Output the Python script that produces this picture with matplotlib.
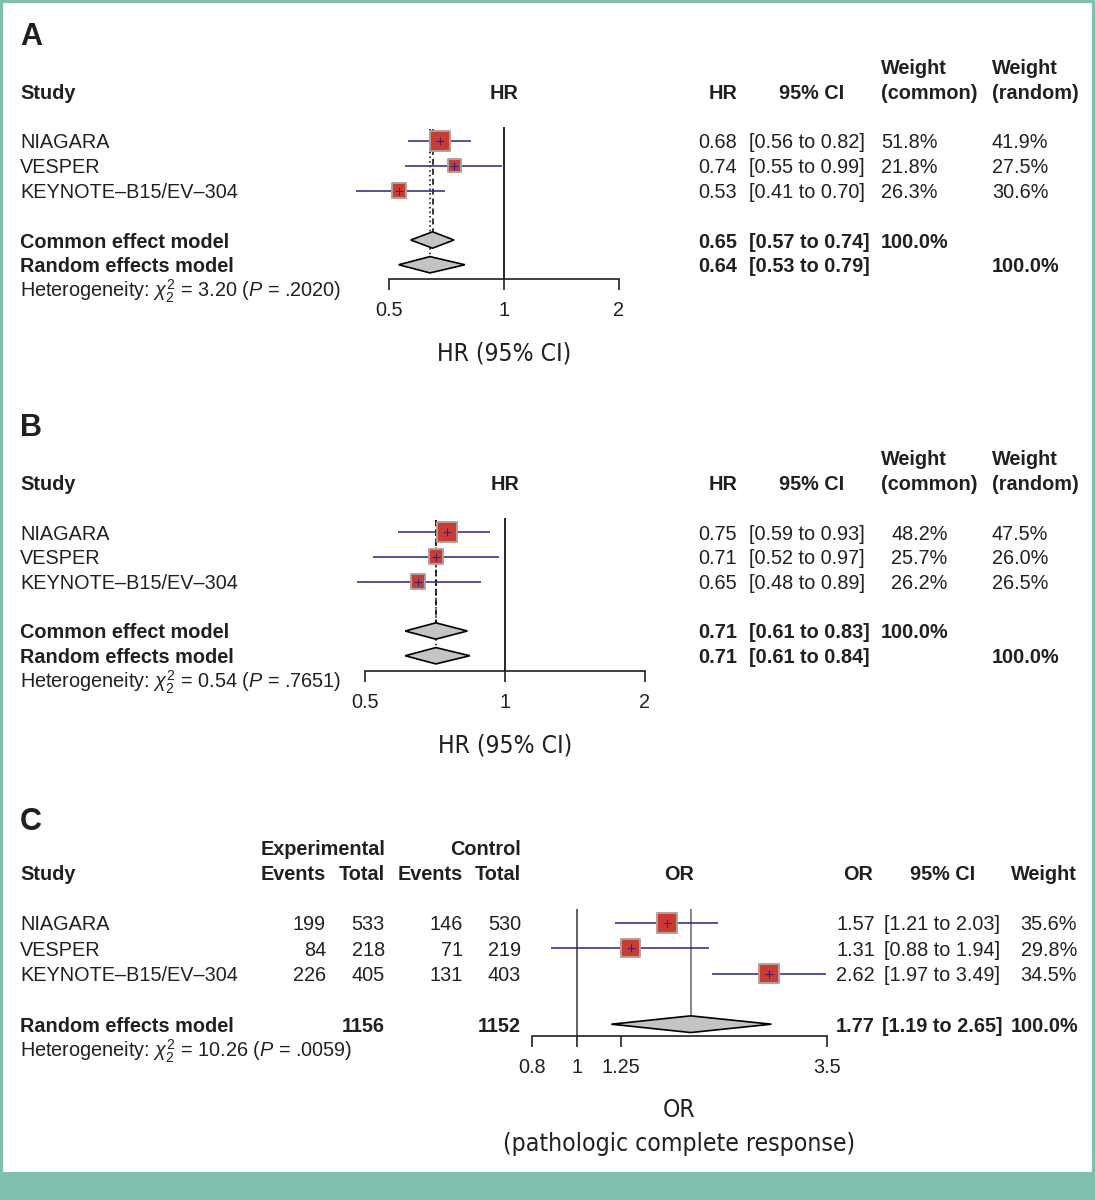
import matplotlib
matplotlib.use("Agg")
import matplotlib.pyplot as plt
from matplotlib import font_manager
from matplotlib.font_manager import FontProperties
from matplotlib.patches import Polygon, Rectangle
from matplotlib.transforms import blended_transform_factory, ScaledTranslation
import numpy as np

W, H = 1095, 1200

# ---- data ----
studies = ["NIAGARA", "VESPER", "KEYNOTE–B15/EV–304"]

# A: HR
a_hr = [0.68, 0.74, 0.53]
a_lo = [0.56, 0.55, 0.41]
a_hi = [0.82, 0.99, 0.70]
a_w_common = [51.8, 21.8, 26.3]
a_w_random = [41.9, 27.5, 30.6]
a_common = (0.65, 0.57, 0.74)
a_random = (0.64, 0.53, 0.79)
a_het = ("3.20", ".2020")

# B: HR
b_hr = [0.75, 0.71, 0.65]
b_lo = [0.59, 0.52, 0.48]
b_hi = [0.93, 0.97, 0.89]
b_w_common = [48.2, 25.7, 26.2]
b_w_random = [47.5, 26.0, 26.5]
b_common = (0.71, 0.61, 0.83)
b_random = (0.71, 0.61, 0.84)
b_het = ("0.54", ".7651")

# C: OR (pathologic complete response)
c_or = [1.57, 1.31, 2.62]
c_lo = [1.21, 0.88, 1.97]
c_hi = [2.03, 1.94, 3.49]
c_weight = [35.6, 29.8, 34.5]
c_exp_events = [199, 84, 226]
c_exp_total = [533, 218, 405]
c_ctl_events = [146, 71, 131]
c_ctl_total = [530, 219, 403]
c_random = (1.77, 1.19, 2.65)
c_het = ("10.26", ".0059")

hr_ticks = [0.5, 1, 2]
hr_ticklabels = ["0.5", "1", "2"]
or_ticks = [0.8, 1, 1.25, 3.5]
or_ticklabels = ["0.8", "1", "1.25", "3.5"]

# ---- style ----
INK = "#231f20"
RED = "#cf3a2e"
BOX_EDGE = "#aaa2a2"
CI_BLUE = "#25258f"
DIAMOND = "#c4c4c4"
TEAL = "#7fbfae"
FS = 14.3

SANS = "Liberation Sans"
plt.rcParams["font.family"] = [SANS, "DejaVu Sans"]
plt.rcParams["mathtext.fontset"] = "custom"
plt.rcParams["mathtext.rm"] = SANS
plt.rcParams["mathtext.it"] = SANS + ":italic"
plt.rcParams["mathtext.bf"] = SANS + ":bold"

# the axis titles use a condensed face; take one if any is installed
narrow = None
for f in font_manager.fontManager.ttflist:
    if f.style != "normal" or f.weight not in (400, "normal", "regular"):
        continue
    if "Narrow" in f.name or "Condensed" in f.name or f.stretch in ("condensed", "semi-condensed"):
        if narrow is None or "Liberation" in f.name:
            narrow = f
if narrow is not None and "Liberation" in narrow.name:
    LABEL_FONT = FontProperties(fname=narrow.fname, size=21.6)
elif narrow is not None:
    LABEL_FONT = FontProperties(fname=narrow.fname, size=17.7)
else:
    LABEL_FONT = FontProperties(family=SANS, size=17)

fig = plt.figure(figsize=(W / 100, H / 100), dpi=100)
fig.patch.set_facecolor("white")
# nudge text rows down a little so cap centres sit on the row
NUDGE = ScaledTranslation(0, -2 / 100, fig.dpi_scale_trans)


def make_axes(x0, x1, row1, row_h, axis_y, top_y, xlim, ticks, ticklabels):
    ax = fig.add_axes([x0 / W, 1 - axis_y / H, (x1 - x0) / W, (axis_y - top_y) / H])
    ax.set_xscale("log")
    ax.set_xlim(*xlim)
    ax.set_ylim(1 + (axis_y - row1) / row_h, 1 + (top_y - row1) / row_h)
    ax.patch.set_alpha(0)
    for s in ["left", "right", "top"]:
        ax.spines[s].set_visible(False)
    ax.spines["bottom"].set_linewidth(1.2)
    ax.spines["bottom"].set_color(INK)
    ax.set_yticks([])
    ax.set_xticks(ticks)
    ax.set_xticklabels(ticklabels)
    ax.xaxis.set_minor_locator(matplotlib.ticker.NullLocator())
    ax.tick_params(axis="x", direction="out", length=8, width=1.2, color=INK,
                   labelsize=FS, labelcolor=INK, pad=8)
    return ax


def put(ax, x, row, s, ha="left", bold=False):
    tr = blended_transform_factory(fig.transFigure, ax.transData) + NUDGE
    ax.text(x / W, row, s, transform=tr, ha=ha, va="center", fontsize=FS,
            fontweight="bold" if bold else "normal", color=INK)


def fig_text(x, y, s, **kw):
    fig.text(x / W, 1 - y / H, s, color=INK, **kw)


def studies_ci(ax, est, lo, hi, weights, box_max=20):
    rows = np.arange(1, len(est) + 1)
    ax.hlines(rows, lo, hi, color=CI_BLUE, lw=1.1, zorder=3, clip_on=False)
    wmax = max(weights)
    sizes = [(box_max * np.sqrt(w / wmax) * 0.72) ** 2 for w in weights]
    ax.scatter(est, rows, s=sizes, marker="s", facecolor=RED, edgecolor=BOX_EDGE,
               linewidth=1.4, zorder=4, clip_on=False)
    ax.scatter(est, rows, s=28, marker="+", color=CI_BLUE, linewidth=0.8,
               zorder=5, clip_on=False)


def diamond(ax, row, est, lo, hi, h=0.33):
    ax.add_patch(Polygon([(lo, row), (est, row - h), (hi, row), (est, row + h)],
                         closed=True, facecolor=DIAMOND, edgecolor="black",
                         linewidth=1.2, zorder=4, clip_on=False))


def hr_panel(letter, row1, axis_y, x0, x1, est, lo, hi, w_common, w_random,
             common, random, het, wc_x):
    row_h = 24.75
    ax = make_axes(x0, x1, row1, row_h, axis_y, row1 - 3.5 * row_h,
                   (0.5, 2), hr_ticks, hr_ticklabels)
    n = len(est)
    # reference and pooled lines
    ax.vlines(1, 0.45, ax.get_ylim()[0], color="black", lw=1.2, zorder=2)
    ax.vlines(common[0], 0.5, n + 2 - 0.33, color="black", lw=1.1,
              linestyles=(0, (4, 2.5)), zorder=2)
    ax.vlines(random[0], 0.5, n + 3 - 0.33, color="black", lw=1.1,
              linestyles=(0, (1, 2)), zorder=2)
    studies_ci(ax, est, lo, hi, w_common)
    diamond(ax, n + 2, *common)
    diamond(ax, n + 3, *random)

    fig_text(20, row1 - 104, letter, fontsize=22, fontweight="bold",
             va="center", ha="left")
    # headers
    put(ax, 20, -1, "Study", bold=True)
    put(ax, (x0 + x1) / 2, -1, "HR", ha="center", bold=True)
    put(ax, 737, -1, "HR", ha="right", bold=True)
    put(ax, 812, -1, "95% CI", ha="center", bold=True)
    put(ax, 881, -2, "Weight", bold=True)
    put(ax, 881, -1, "(common)", bold=True)
    put(ax, 992, -2, "Weight", bold=True)
    put(ax, 992, -1, "(random)", bold=True)
    # study rows
    for i in range(n):
        r = i + 1
        put(ax, 20, r, studies[i])
        put(ax, 737, r, f"{est[i]:.2f}", ha="right")
        put(ax, 749, r, f"[{lo[i]:.2f} to {hi[i]:.2f}]")
        put(ax, wc_x, r, f"{w_common[i]:.1f}%")
        put(ax, 992, r, f"{w_random[i]:.1f}%")
    # pooled rows
    put(ax, 20, n + 2, "Common effect model", bold=True)
    put(ax, 737, n + 2, f"{common[0]:.2f}", ha="right", bold=True)
    put(ax, 749, n + 2, f"[{common[1]:.2f} to {common[2]:.2f}]", bold=True)
    put(ax, 881, n + 2, "100.0%", bold=True)
    put(ax, 20, n + 3, "Random effects model", bold=True)
    put(ax, 737, n + 3, f"{random[0]:.2f}", ha="right", bold=True)
    put(ax, 749, n + 3, f"[{random[1]:.2f} to {random[2]:.2f}]", bold=True)
    put(ax, 992, n + 3, "100.0%", bold=True)
    put(ax, 20, n + 4, r"Heterogeneity: $\chi^2_2$ = " + het[0] + r" ($P$ = " + het[1] + ")")
    fig_text((x0 + x1) / 2, axis_y + 74, "HR (95% CI)", fontproperties=LABEL_FONT,
             ha="center", va="center")


hr_panel("A", 141, 279, 389, 619, a_hr, a_lo, a_hi, a_w_common, a_w_random,
         a_common, a_random, a_het, 881)
hr_panel("B", 532, 671, 365, 645, b_hr, b_lo, b_hi, b_w_common, b_w_random,
         b_common, b_random, b_het, 891)

# ---- panel C ----
row1, row_h, axis_y, x0, x1 = 923, 25.3, 1036, 532, 827
ax = make_axes(x0, x1, row1, row_h, axis_y, row1 - 3.5 * row_h,
               (0.8, 3.5), or_ticks, or_ticklabels)
n = len(c_or)
ax.vlines(1, 0.45, ax.get_ylim()[0], color="#444444", lw=1.2, zorder=2)
ax.vlines(c_random[0], 0.45, n + 2 - 0.33, color="#666666", lw=1.1, zorder=2)
studies_ci(ax, c_or, c_lo, c_hi, c_weight)
diamond(ax, n + 2, *c_random)

fig_text(20, row1 - 101, "C", fontsize=22, fontweight="bold", va="center", ha="left")
put(ax, 20, -1, "Study", bold=True)
put(ax, 385, -2, "Experimental", ha="right", bold=True)
put(ax, 521, -2, "Control", ha="right", bold=True)
for xr, lab in [(326, "Events"), (385, "Total"), (463, "Events"), (521, "Total")]:
    put(ax, xr, -1, lab, ha="right", bold=True)
put(ax, (x0 + x1) / 2, -1, "OR", ha="center", bold=True)
put(ax, 873, -1, "OR", ha="right", bold=True)
put(ax, 943, -1, "95% CI", ha="center", bold=True)
put(ax, 1077, -1, "Weight", ha="right", bold=True)
for i in range(n):
    r = i + 1
    put(ax, 20, r, studies[i])
    put(ax, 326, r, str(c_exp_events[i]), ha="right")
    put(ax, 385, r, str(c_exp_total[i]), ha="right")
    put(ax, 463, r, str(c_ctl_events[i]), ha="right")
    put(ax, 521, r, str(c_ctl_total[i]), ha="right")
    put(ax, 875, r, f"{c_or[i]:.2f}", ha="right")
    put(ax, 884, r, f"[{c_lo[i]:.2f} to {c_hi[i]:.2f}]")
    put(ax, 1077, r, f"{c_weight[i]:.1f}%", ha="right")
put(ax, 20, n + 2, "Random effects model", bold=True)
put(ax, 385, n + 2, str(sum(c_exp_total)), ha="right", bold=True)
put(ax, 521, n + 2, str(sum(c_ctl_total)), ha="right", bold=True)
put(ax, 875, n + 2, f"{c_random[0]:.2f}", ha="right", bold=True)
put(ax, 882, n + 2, f"[{c_random[1]:.2f} to {c_random[2]:.2f}]", bold=True)
put(ax, 1078, n + 2, "100.0%", ha="right", bold=True)
put(ax, 20, n + 3, r"Heterogeneity: $\chi^2_2$ = " + c_het[0] + r" ($P$ = " + c_het[1] + ")")
fig_text((x0 + x1) / 2, axis_y + 74, "OR", fontproperties=LABEL_FONT,
         ha="center", va="center")
fig_text((x0 + x1) / 2, axis_y + 108, "(pathologic complete response)",
         fontproperties=LABEL_FONT, ha="center", va="center")

# ---- frame ----
fig.add_artist(Rectangle((0, 0), 1, 1, transform=fig.transFigure, fill=False,
                         edgecolor=TEAL, linewidth=4.5))
fig.add_artist(Rectangle((0, 0), 1, (H - 1172) / H, transform=fig.transFigure,
                         facecolor=TEAL, edgecolor="none"))

fig.savefig("out.png", dpi=100)
